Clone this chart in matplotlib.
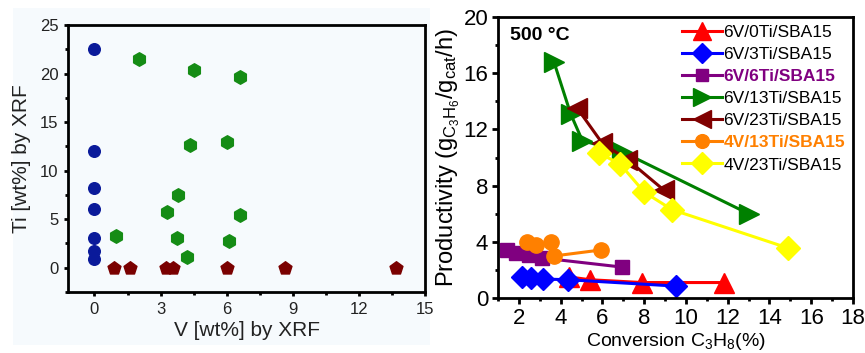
import numpy as np
import matplotlib
matplotlib.use("Agg")
import matplotlib.pyplot as plt
from matplotlib.patches import Rectangle
from matplotlib.ticker import MultipleLocator

plt.rcParams["font.family"] = ["Liberation Sans", "DejaVu Sans"]
plt.rcParams["mathtext.fontset"] = "custom"
plt.rcParams["mathtext.rm"] = "Liberation Sans"
plt.rcParams["mathtext.it"] = "Liberation Sans"

# ---- left panel: composition by XRF ----
v_only_v = [0, 0, 0, 0, 0, 0, 0]
v_only_ti = [22.5, 12.0, 8.2, 6.1, 3.05, 1.75, 0.86]

vti_v = [2.0, 4.5, 6.6, 4.35, 6.0, 3.8, 3.3, 6.6, 0.96, 3.75, 6.1, 4.2]
vti_ti = [21.5, 20.4, 19.6, 12.6, 12.9, 7.5, 5.75, 5.4, 3.3, 3.1, 2.8, 1.15]

ti_only_v = [0.88, 1.63, 3.23, 3.55, 6.0, 8.66, 13.7]
ti_only_ti = [0, 0, 0, 0, 0, 0, 0]

# ---- right panel: productivity vs conversion at 500 C ----
series_labels = ["6V/0Ti/SBA15", "6V/3Ti/SBA15", "6V/6Ti/SBA15", "6V/13Ti/SBA15",
                 "6V/23Ti/SBA15", "4V/13Ti/SBA15", "4V/23Ti/SBA15"]
conv_0ti = [4.4, 5.4, 7.9, 11.8]
prod_0ti = [1.5, 1.3, 1.1, 1.1]
conv_3ti = [2.13, 2.6, 3.17, 4.37, 9.5]
prod_3ti = [1.5, 1.45, 1.35, 1.3, 0.85]
conv_6ti = [1.42, 1.86, 2.48, 3.1, 6.94]
prod_6ti = [3.42, 3.2, 3.06, 2.85, 2.2]
conv_13ti = [3.68, 4.48, 5.04, 6.96, 13.0]
prod_13ti = [16.8, 13.1, 11.2, 10.4, 6.0]
conv_23ti = [4.8, 6.0, 7.2, 8.96]
prod_23ti = [13.5, 11.0, 9.85, 7.66]
conv_4v13ti = [2.38, 2.8, 3.54, 3.68, 5.94]
prod_4v13ti = [3.99, 3.77, 3.99, 2.99, 3.42]
conv_4v23ti = [5.84, 6.83, 8.0, 9.33, 14.9]
prod_4v23ti = [10.3, 9.56, 7.54, 6.29, 3.55]

fig = plt.figure(figsize=(8.65, 3.53), dpi=100)
# faint tinted background behind the left panel
fig.patches.append(Rectangle((13 / 865, 8 / 353), 417 / 865, 337 / 353,
                             transform=fig.transFigure, fc="#f6fafd", ec="none", zorder=-5))

ax1 = fig.add_axes([68 / 865, 61 / 353, 357 / 865, 267 / 353])
ax1.patch.set_alpha(0)
ax1.scatter(v_only_v, v_only_ti, s=70, marker="o", color="#0a1a9a", zorder=3)
ax1.scatter(vti_v, vti_ti, s=95, marker="h", color="#158c15", zorder=3)
ax1.scatter(ti_only_v, ti_only_ti, s=95, marker="p", color="#7a0000", zorder=3)
ax1.set_xlim(-1.2, 15)
ax1.set_ylim(-2.5, 25)
ax1.xaxis.set_major_locator(MultipleLocator(3))
ax1.xaxis.set_minor_locator(MultipleLocator(1.5))
ax1.yaxis.set_major_locator(MultipleLocator(5))
ax1.yaxis.set_minor_locator(MultipleLocator(2.5))
ax1.tick_params(which="major", direction="out", length=3, width=2, labelsize=12,
                labelcolor="#222222", pad=4)
ax1.tick_params(which="minor", direction="out", length=2.5, width=2)
for sp in ax1.spines.values():
    sp.set_linewidth(2)
ax1.set_xlabel("V [wt%] by XRF", fontsize=15, color="#222222", labelpad=3)
ax1.set_ylabel("Ti [wt%] by XRF", fontsize=15, color="#222222", labelpad=6)

ax2 = fig.add_axes([498 / 865, 55 / 353, 355 / 865, 281 / 353])
ax2.patch.set_alpha(0)
lw = 2.2
ax2.plot(conv_0ti, prod_0ti, "-^", color="#ff0000", lw=lw, ms=14, label=series_labels[0])
ax2.plot(conv_3ti, prod_3ti, "-D", color="#0000ff", lw=lw, ms=11, label=series_labels[1])
ax2.plot(conv_6ti, prod_6ti, "-s", color="#800080", lw=lw, ms=10, label=series_labels[2])
ax2.plot(conv_13ti, prod_13ti, "->", color="#008000", lw=lw, ms=14, label=series_labels[3])
ax2.plot(conv_23ti, prod_23ti, "-<", color="#800000", lw=lw, ms=14, label=series_labels[4])
ax2.plot(conv_4v13ti, prod_4v13ti, "-o", color="#ff8000", lw=lw, ms=11, label=series_labels[5])
ax2.plot(conv_4v23ti, prod_4v23ti, "-D", color="#ffff00", lw=lw, ms=12, label=series_labels[6])
ax2.set_xlim(1, 18)
ax2.set_ylim(0, 20)
ax2.xaxis.set_major_locator(MultipleLocator(2))
ax2.xaxis.set_minor_locator(MultipleLocator(1))
ax2.yaxis.set_major_locator(MultipleLocator(4))
ax2.yaxis.set_minor_locator(MultipleLocator(2))
ax2.tick_params(which="major", direction="out", length=4, width=2, labelsize=16, pad=3)
ax2.tick_params(which="minor", direction="out", length=2.5, width=2)
for sp in ax2.spines.values():
    sp.set_linewidth(2)
ax2.set_xlabel("Conversion C$_3$H$_8$(%)", fontsize=14, labelpad=2)
ax2.set_ylabel("Productivity (g$_{C_3H_6}$/g$_{cat}$/h)", fontsize=17, labelpad=1)
ax2.text(0.035, 0.965, "500 °C", transform=ax2.transAxes, fontsize=14,
         fontweight="bold", va="top", ha="left")

leg = ax2.legend(loc="upper right", frameon=False, fontsize=12.5, handlelength=2.3,
                 handletextpad=0.1, labelspacing=0.4, borderaxespad=0.05,
                 markerscale=0.9)
for txt in leg.get_texts():
    if txt.get_text() == "6V/6Ti/SBA15":
        txt.set_color("#800080")
        txt.set_fontweight("bold")
    elif txt.get_text() == "4V/13Ti/SBA15":
        txt.set_color("#ff8000")
        txt.set_fontweight("bold")

fig.savefig("out.png", dpi=100)
